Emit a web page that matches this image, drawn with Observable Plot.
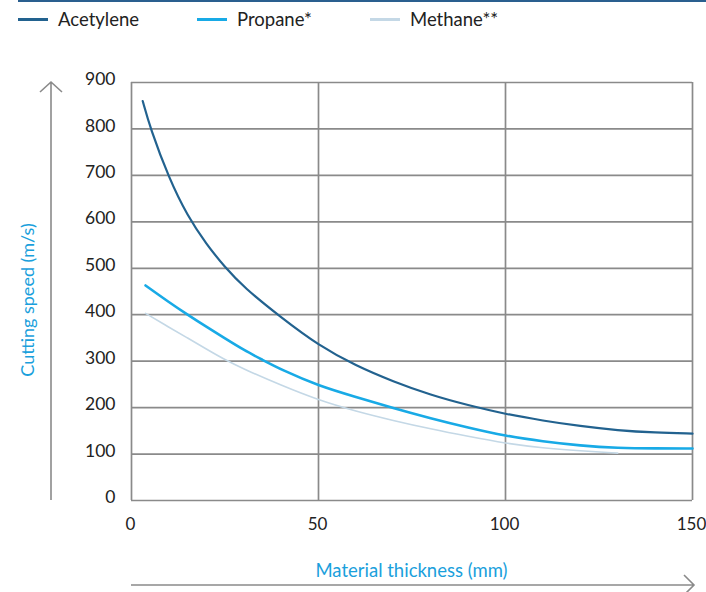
<!DOCTYPE html>
<html><head><meta charset="utf-8">
<script src="https://cdn.jsdelivr.net/npm/d3@7"></script>
<script src="https://cdn.jsdelivr.net/npm/@observablehq/plot@0.6"></script>
<style>
body{margin:0;background:#fff;font-family:Lato,"Open Sans",sans-serif;}
#wrap{position:relative;width:706px;height:592px;overflow:hidden;}
#topline{position:absolute;left:18px;right:0;top:0;height:2px;background:#2a5f8f;}
.lg{position:absolute;top:8px;height:22px;display:flex;align-items:center;font-size:18.5px;color:#222;white-space:nowrap;}
.sw{display:inline-block;width:30px;height:3px;margin-right:10px;}
#chart{position:absolute;left:0;top:0;}
</style></head>
<body>
<div id="wrap">
  <div id="topline"></div>
  <div id="chart"></div>
</div>
<script>
// ---- data ----
const series = ["Acetylene", "Propane*", "Methane**"];
const colors = ["#22628f", "#18aae6", "#c4d8e6"];
const widths = [2.2, 2.6, 1.6];
const legendLeft = [18, 197, 370];

const acetyleneX = [3, 5, 10, 15, 20, 25, 30, 40, 50, 60, 70, 80, 90, 100, 110, 120, 130, 140, 150];
const acetyleneY = [860, 802, 694, 612, 552, 502, 459, 394, 334, 290, 256, 227, 205, 186, 172, 160, 151, 146, 144];

const propaneX = [3.75, 10, 15, 20, 25, 30, 35, 40, 50, 60, 70, 80, 90, 100, 110, 120, 130, 140, 150];
const propaneY = [463, 427, 400, 374, 349, 324, 303, 282, 247, 223, 199, 177, 157, 139, 127, 118, 113, 112, 112];

const methaneX = [3.75, 10, 15, 20, 25, 30, 40, 50, 60, 70, 80, 90, 100, 110, 120, 130];
const methaneY = [403, 373, 350, 326, 303, 283, 248, 216, 192, 172, 154, 138, 123, 113, 107, 102];

const xTicks = [0, 50, 100, 150];
const yTicks = [0, 100, 200, 300, 400, 500, 600, 700, 800, 900];
const xLabel = "Material thickness (mm)";
const yLabel = "Cutting speed (m/s)";

const rows = (name, xs, ys) => xs.map((x, i) => ({gas: name, t: x, v: ys[i]}));
const data = [
  rows(series[0], acetyleneX, acetyleneY),
  rows(series[1], propaneX, propaneY),
  rows(series[2], methaneX, methaneY)
];

// legend
const wrap = document.getElementById("wrap");
series.forEach((s, i) => {
  const d = document.createElement("div");
  d.className = "lg";
  d.style.left = legendLeft[i] + "px";
  d.innerHTML = `<span class="sw" style="background:${colors[i]}"></span><span>${s}</span>`;
  wrap.appendChild(d);
});

const gridStyle = {stroke: "#8a8a8a", strokeOpacity: 1, strokeWidth: 1.7};

const plot = Plot.plot({
  width: 706, height: 592,
  marginTop: 82, marginBottom: 92, marginLeft: 131, marginRight: 14,
  x: {domain: [0, 150]},
  y: {domain: [0, 900]},
  style: {fontFamily: "Lato, 'Open Sans', sans-serif", fontSize: "17.5px", color: "#222", background: "transparent"},
  marks: [
    Plot.gridX(xTicks, gridStyle),
    Plot.gridY(yTicks, gridStyle),
    Plot.axisX(xTicks, {tickSize: 0, tickPadding: 17, label: null, fill: "#222", fontSize: 17, dx: -1}),
    Plot.axisY(yTicks, {tickSize: 0, tickPadding: 16, label: null, fill: "#222", dy: -3}),
    Plot.line(data[2], {x: "t", y: "v", stroke: colors[2], strokeWidth: widths[2], curve: "basis"}),
    Plot.line(data[1], {x: "t", y: "v", stroke: colors[1], strokeWidth: widths[1], curve: "basis"}),
    Plot.line(data[0], {x: "t", y: "v", stroke: colors[0], strokeWidth: widths[0], curve: "basis"})
  ]
});
document.getElementById("chart").appendChild(plot);

// decorations: axis arrows and axis titles, placed from the plot's scales
const sx = plot.scale("x"), sy = plot.scale("y");
const svg = d3.select(plot);
const x0 = sx.apply(0), x1 = sx.apply(150), y0 = sy.apply(0), y1 = sy.apply(900);
const g = svg.append("g").attr("fill", "none").attr("stroke", "#8a8a8a").attr("stroke-width", 1.6);
const ax = 51;
g.append("path").attr("d", `M${ax},${y0}V${y1}M${ax - 11},${y1 + 10}L${ax},${y1}L${ax + 11},${y1 + 10}`);
const ay = 585;
g.append("path").attr("d", `M${x0},${ay}H${x1 + 2}M${x1 - 8},${ay - 10}L${x1 + 2},${ay}L${x1 - 8},${ay + 10}`);

svg.append("text").text(xLabel)
  .attr("x", (x0 + x1) / 2 - 0).attr("y", 577)
  .attr("text-anchor", "middle").attr("fill", "#1aa0dc")
  .attr("font-size", 18.5);
svg.append("text").text(yLabel)
  .attr("transform", `translate(34,${(y0 + y1) / 2 + 9}) rotate(-90)`)
  .attr("text-anchor", "middle").attr("fill", "#1aa0dc")
  .attr("font-size", 18);
</script>
</body></html>
